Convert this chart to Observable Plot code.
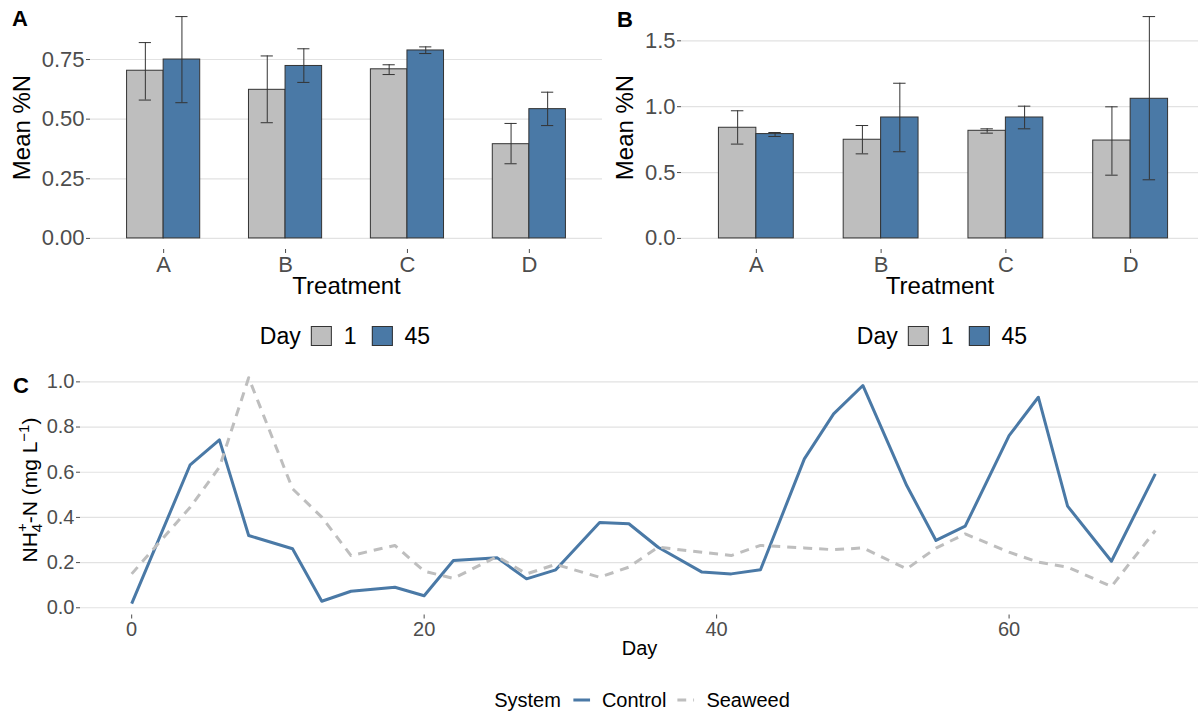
<!DOCTYPE html>
<html><head><meta charset="utf-8">
<script src="https://cdn.jsdelivr.net/npm/d3@7"></script>
<script src="https://cdn.jsdelivr.net/npm/@observablehq/plot@0.6"></script>
<style>
body{margin:0;background:#fff;font-family:"Liberation Sans",Arial,sans-serif;}
#root{position:relative;width:1198px;height:713px;overflow:hidden;background:#fff;}
.panel{position:absolute;}
.plab{position:absolute;font-weight:bold;font-size:22px;line-height:1;color:#000;}
.legend{position:absolute;display:flex;align-items:center;transform:translateX(-50%);white-space:nowrap;color:#000;line-height:1;}
.sw{display:inline-block;width:21px;height:20px;border:1px solid #333;box-sizing:border-box;}
</style></head><body><div id="root"></div>
<script>
// ---------- data ----------
const treatments = ["A", "B", "C", "D"];
const days = ["1", "45"];
const dayColors = ["#BEBEBE", "#4A79A6"];

// Panel A
const meanA1  = [0.703, 0.623, 0.709, 0.395];
const loA1    = [0.580, 0.485, 0.687, 0.313];
const hiA1    = [0.821, 0.765, 0.728, 0.482];
const meanA45 = [0.750, 0.723, 0.788, 0.542];
const loA45   = [0.569, 0.654, 0.775, 0.473];
const hiA45   = [0.930, 0.795, 0.803, 0.613];
const ticksA  = [0, 0.25, 0.5, 0.75];

// Panel B
const meanB1  = [0.840, 0.749, 0.817, 0.743];
const loB1    = [0.716, 0.642, 0.799, 0.480];
const hiB1    = [0.969, 0.857, 0.832, 0.999];
const meanB45 = [0.792, 0.918, 0.918, 1.060];
const loB45   = [0.774, 0.658, 0.832, 0.445];
const hiB45   = [0.804, 1.178, 1.004, 1.684];
const ticksB  = [0, 0.5, 1.0, 1.5];

// Panel C
const sampleDays = [0,4,6,8,11,13,15,18,20,22,25,27,29,32,34,36,39,41,43,46,48,50,53,55,57,60,62,64,67,70];
const control = [0.018,0.633,0.743,0.320,0.261,0.029,0.073,0.091,0.053,0.209,0.221,0.128,0.168,0.377,0.372,0.268,0.158,0.150,0.168,0.659,0.858,0.984,0.541,0.298,0.361,0.762,0.932,0.450,0.206,0.593];
const seaweed = [0.150,0.445,0.622,1.018,0.527,0.401,0.231,0.276,0.162,0.130,0.227,0.150,0.192,0.135,0.180,0.268,0.246,0.231,0.276,0.265,0.257,0.265,0.172,0.264,0.327,0.246,0.202,0.180,0.094,0.342];
const systems = ["Control", "Seaweed"];
const systemColors = ["#4A79A6", "#BEBEBE"];
const ticksCx = [0, 20, 40, 60];
const ticksCy = [0, 0.2, 0.4, 0.6, 0.8, 1.0];

// ---------- helpers ----------
const fontFamily = '"Liberation Sans", Arial, sans-serif';
const root = document.getElementById("root");
const gridColor = "#E2E2E2";
const axisColor = "#4D4D4D";
const dodge = 0.3, capHalf = 0.05;

function place(node, left, top) {
  const wrap = document.createElement("div");
  wrap.className = "panel";
  wrap.style.left = left + "px";
  wrap.style.top = top + "px";
  wrap.appendChild(node);
  root.appendChild(wrap);
}

function barPanel({m1, l1, h1, m45, l45, h45, yTicks, yFmt, width, marginLeft, xRange, titleDx}) {
  const rows = treatments.flatMap((t, k) => [
    {treatment: t, pos: k + 1, day: days[0], mean: m1[k], lo: l1[k], hi: h1[k]},
    {treatment: t, pos: k + 1, day: days[1], mean: m45[k], lo: l45[k], hi: h45[k]}
  ]);
  const maxV = d3.max(rows, d => d.hi);
  const pad = maxV * 0.05;
  const left = d => d.pos + (d.day === days[0] ? -dodge : 0);
  const right = d => d.pos + (d.day === days[0] ? 0 : dodge);
  const center = d => d.pos + (d.day === days[0] ? -dodge / 2 : dodge / 2);
  return Plot.plot({
    width, height: 310, marginTop: 5, marginBottom: 61, marginLeft, marginRight: 0,
    x: {type: "linear", domain: [0.4, 4.6], range: xRange},
    y: {domain: [-pad, maxV + pad]},
    color: {domain: days, range: dayColors},
    style: {fontFamily, background: "transparent", overflow: "visible"},
    marks: [
      Plot.ruleY(yTicks, {stroke: gridColor, strokeWidth: 1.2}),
      Plot.rect(rows, {x1: left, x2: right, y1: 0, y2: "mean", fill: "day", stroke: "#333", strokeWidth: 1}),
      Plot.ruleX(rows, {x: center, y1: "lo", y2: "hi", stroke: "#333", strokeWidth: 1}),
      Plot.ruleY(rows, {y: "lo", x1: d => center(d) - capHalf, x2: d => center(d) + capHalf, stroke: "#333", strokeWidth: 1}),
      Plot.ruleY(rows, {y: "hi", x1: d => center(d) - capHalf, x2: d => center(d) + capHalf, stroke: "#333", strokeWidth: 1}),
      Plot.axisX({ticks: [1, 2, 3, 4], tickFormat: i => treatments[i - 1], fontSize: 22, tickSize: 4, tickPadding: 3, color: axisColor, label: null}),
      Plot.axisY({ticks: yTicks, tickFormat: yFmt, fontSize: 22, tickSize: 4, tickPadding: 2, color: axisColor, label: null}),
      Plot.text(["Treatment"], {text: d => d, frameAnchor: "bottom", dy: 44, fontSize: 24, fill: "#000"}),
      Plot.text(["Mean %N"], {text: d => d, frameAnchor: "left", textAnchor: "middle", rotate: -90, dx: titleDx, fontSize: 24, fill: "#000"})
    ]
  });
}

// Panel A
place(barPanel({m1: meanA1, l1: loA1, h1: hiA1, m45: meanA45, l45: loA45, h45: hiA45,
  yTicks: ticksA, yFmt: d3.format(".2f"), width: 602, marginLeft: 90, xRange: [90, 602], titleDx: -68}), 0, 0);
// Panel B
place(barPanel({m1: meanB1, l1: loB1, h1: hiB1, m45: meanB45, l45: loB45, h45: hiB45,
  yTicks: ticksB, yFmt: d3.format(".1f"), width: 598, marginLeft: 81, xRange: [81, 605], titleDx: -56}), 600, 0);

// Panel C
const rowsC = systems.flatMap((s, j) => sampleDays.map((d, i) => ({day: d, value: (j === 0 ? control : seaweed)[i], system: s})));
const cMax = d3.max(rowsC, d => d.value), cMin = d3.min(rowsC, d => d.value);
const cPad = (cMax - cMin) * 0.05;
const xPad = (d3.max(sampleDays) - d3.min(sampleDays)) * 0.05;
const plotC = Plot.plot({
  width: 1198, height: 310, marginTop: 6, marginBottom: 55.5, marginLeft: 80, marginRight: 0,
  x: {domain: [d3.min(sampleDays) - xPad, d3.max(sampleDays) + xPad], range: [80, 1206]},
  y: {domain: [cMin - cPad, cMax + cPad]},
  style: {fontFamily, background: "transparent", overflow: "visible"},
  marks: [
    Plot.ruleY(ticksCy, {stroke: gridColor, strokeWidth: 1.2}),
    Plot.line(rowsC.filter(d => d.system === systems[0]), {x: "day", y: "value", stroke: systemColors[0], strokeWidth: 3, strokeLinejoin: "round", strokeLinecap: "butt"}),
    Plot.line(rowsC.filter(d => d.system === systems[1]), {x: "day", y: "value", stroke: systemColors[1], strokeWidth: 3, strokeDasharray: "9,7", strokeLinejoin: "round", strokeLinecap: "butt"}),
    Plot.axisX({ticks: ticksCx, tickFormat: d3.format("d"), fontSize: 20, tickSize: 4, tickPadding: 3, color: axisColor, label: null}),
    Plot.axisY({ticks: ticksCy, tickFormat: d3.format(".1f"), fontSize: 20, tickSize: 4, tickPadding: 2, color: axisColor, label: null}),
    Plot.text(["Day"], {text: d => d, frameAnchor: "bottom", dy: 40, fontSize: 20, fill: "#000"})
  ]
});
// rich y title for panel C
{
  const svg = d3.select(plotC.tagName.toLowerCase() === "svg" ? plotC : plotC.querySelector("svg"));
  const t = svg.append("text")
    .attr("transform", "translate(37,130) rotate(-90)")
    .attr("text-anchor", "middle")
    .attr("font-size", 21)
    .attr("font-family", fontFamily)
    .attr("fill", "#000");
  t.append("tspan").text("NH");
  t.append("tspan").attr("font-size", 15).attr("dy", 5).text("4");
  t.append("tspan").attr("font-size", 15).attr("dx", -8.3).attr("dy", -15).text("+");
  t.append("tspan").attr("dy", 10).text("-N (mg L");
  t.append("tspan").attr("font-size", 15).attr("dy", -8).text("\u22121");
  t.append("tspan").attr("dy", 8).text(")");
}
place(plotC, 0, 360);

// ---------- panel labels ----------
[["A", 12, 8], ["B", 617, 9], ["C", 13, 375]].forEach(([s, x, y]) => {
  const d = document.createElement("div");
  d.className = "plab"; d.textContent = s;
  d.style.left = x + "px"; d.style.top = y + "px";
  root.appendChild(d);
});

// ---------- legends ----------
function dayLegend(cx) {
  const lg = document.createElement("div");
  lg.className = "legend";
  lg.style.left = cx + "px"; lg.style.top = "324px"; lg.style.height = "24px"; lg.style.fontSize = "23px";
  const parts = [];
  const title = document.createElement("span"); title.textContent = "Day"; title.style.marginRight = "10px"; parts.push(title);
  days.forEach((d, i) => {
    const sw = document.createElement("span"); sw.className = "sw"; sw.style.background = dayColors[i];
    sw.style.marginRight = "12px"; if (i > 0) sw.style.marginLeft = "15px";
    const lab = document.createElement("span"); lab.textContent = d;
    parts.push(sw, lab);
  });
  parts.forEach(p => lg.appendChild(p));
  root.appendChild(lg);
}
dayLegend(345);
dayLegend(942);

{
  const lg = document.createElement("div");
  lg.className = "legend";
  lg.style.left = "642px"; lg.style.top = "689px"; lg.style.height = "22px"; lg.style.fontSize = "20px";
  const title = document.createElement("span"); title.textContent = "System"; title.style.marginRight = "12px";
  lg.appendChild(title);
  systems.forEach((s, i) => {
    const ns = "http://www.w3.org/2000/svg";
    const key = document.createElementNS(ns, "svg");
    key.setAttribute("width", 17); key.setAttribute("height", 12);
    key.style.marginRight = "12px"; if (i > 0) key.style.marginLeft = "11px";
    const ln = document.createElementNS(ns, "line");
    ln.setAttribute("x1", 0); ln.setAttribute("x2", 17); ln.setAttribute("y1", 6); ln.setAttribute("y2", 6);
    ln.setAttribute("stroke", systemColors[i]); ln.setAttribute("stroke-width", 3);
    if (i === 1) ln.setAttribute("stroke-dasharray", "9,7");
    key.appendChild(ln);
    const lab = document.createElement("span"); lab.textContent = s;
    lg.appendChild(key); lg.appendChild(lab);
  });
  root.appendChild(lg);
}
</script></body></html>
